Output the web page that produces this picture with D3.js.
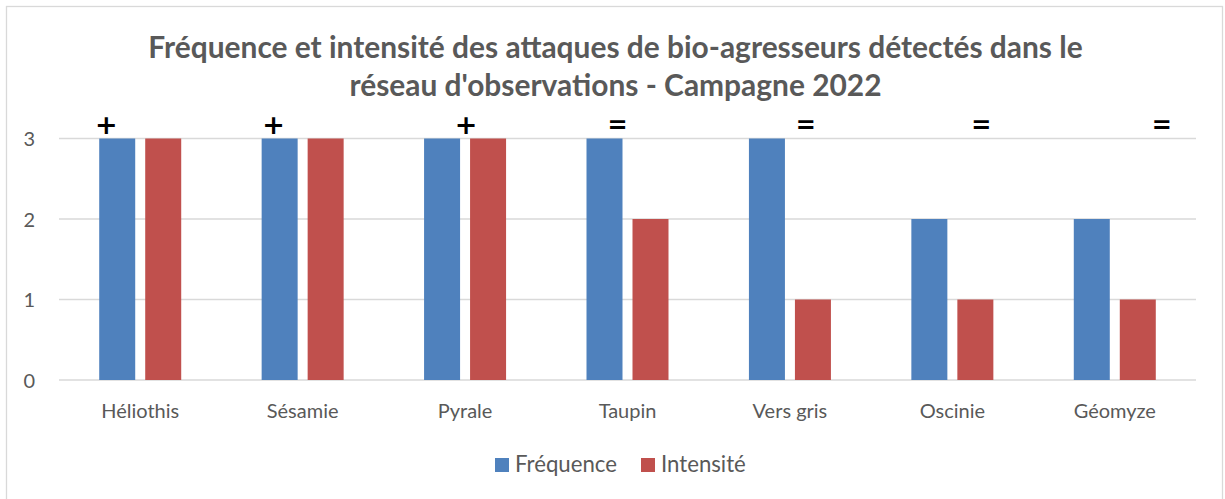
<!DOCTYPE html>
<html>
<head>
<meta charset="utf-8">
<script src="https://cdn.jsdelivr.net/npm/d3@7"></script>
<style>
  body { margin: 0; background: #fff; }
  svg { display: block; }
</style>
</head>
<body>
<div id="chart"></div>
<script>
var width = 1225, height = 499;

// data
var categories = ["Héliothis", "Sésamie", "Pyrale", "Taupin", "Vers gris", "Oscinie", "Géomyze"];
var frequence = [3, 3, 3, 3, 3, 2, 2];
var intensite = [3, 3, 3, 2, 1, 1, 1];
var seriesNames = ["Fréquence", "Intensité"];
var trendMarks = ["+", "+", "+", "=", "=", "=", "="];
var yTicks = [0, 1, 2, 3];
var titleLines = ["Fréquence et intensité des attaques de bio-agresseurs détectés dans le",
                  "réseau d'observations - Campagne 2022"];

// hand placed annotations in the original, shift from category centre (px)
var markShift = [-34, -29, 1, -10, 16, 29, 47];

var colors = ["#4F81BD", "#C0504D"];
var font = "Lato, 'Open Sans', sans-serif";

var svg = d3.select("#chart")
            .append("svg")
            .attr("width", width)
            .attr("height", height);

// scale a text selection so that one of its nodes gets a given width
function fitText(sel, node, target, base) {
  var w = node.getComputedTextLength();
  var fs = base * target / w;
  sel.style("font-size", fs + "px");
  return fs;
}

// chart frame (bottom edge is off the picture)
svg.append("rect")
   .attr("x", 6.5).attr("y", 6.5)
   .attr("width", 1216).attr("height", 520)
   .attr("fill", "white")
   .attr("stroke", "#D9D9D9")
   .attr("stroke-width", 1.3);

var plot = { left: 59, right: 1196, top: 138.5, bottom: 380 };

var x = d3.scaleBand()
          .domain(categories)
          .range([plot.left, plot.right]);

var x1 = d3.scaleBand()
           .domain(seriesNames)
           .range([0, 82])
           .paddingInner(10 / 46);

var y = d3.scaleLinear()
          .domain([0, 3])
          .range([plot.bottom, plot.top]);

// gridlines
svg.append("g")
   .selectAll("line")
   .data(yTicks)
   .enter()
   .append("line")
   .attr("x1", plot.left)
   .attr("x2", plot.right)
   .attr("y1", function(d) { return y(d); })
   .attr("y2", function(d) { return y(d); })
   .attr("stroke", "#D9D9D9")
   .attr("stroke-width", 1.3);

// x axis labels
var xAxis = svg.append("g")
   .attr("transform", "translate(0," + plot.bottom + ")")
   .call(d3.axisBottom(x).tickSize(0));
xAxis.select(".domain").remove();
var xText = xAxis.selectAll("text")
     .attr("font-family", font)
     .style("font-size", "16px")
     .attr("fill", "#595959")
     .attr("y", 38)
     .attr("dy", 0);
var labelSize = fitText(xText, xText.node(), 78, 16);

// y axis labels
var yAxis = svg.append("g")
   .attr("transform", "translate(" + (plot.left - 24) + ",0)")
   .call(d3.axisLeft(y).tickValues(yTicks).tickSize(0).tickPadding(0).tickFormat(d3.format("d")));
yAxis.select(".domain").remove();
yAxis.selectAll("text")
     .attr("font-family", font)
     .style("font-size", labelSize + "px")
     .attr("fill", "#595959")
     .attr("dy", "0.36em");

// bars
var rows = categories.map(function(c, i) {
  return { cat: c, vals: [frequence[i], intensite[i]] };
});

var groups = svg.selectAll(".grp")
   .data(rows)
   .enter()
   .append("g")
   .attr("class", "grp")
   .attr("transform", function(d) { return "translate(" + (x(d.cat) + x.bandwidth() / 2 - 41) + ",0)"; });

groups.selectAll("rect")
   .data(function(d) { return d.vals.map(function(v, j) { return { s: seriesNames[j], v: v, j: j }; }); })
   .enter()
   .append("rect")
   .attr("x", function(d) { return x1(d.s); })
   .attr("y", function(d) { return y(d.v); })
   .attr("width", x1.bandwidth())
   .attr("height", function(d) { return y(0) - y(d.v); })
   .attr("fill", function(d) { return colors[d.j]; });

// trend marks above the bars
svg.append("g")
   .selectAll("text")
   .data(trendMarks)
   .enter()
   .append("text")
   .attr("x", function(d, i) { return x(categories[i]) + x.bandwidth() / 2 + markShift[i]; })
   .attr("y", function(d) { return d == "+" ? 134 : 133; })
   .attr("text-anchor", "middle")
   .attr("font-family", "'DejaVu Sans', sans-serif")
   .attr("font-weight", "bold")
   .style("font-size", function(d) { return d == "+" ? "27px" : "24px"; })
   .attr("fill", "black")
   .text(function(d) { return d; });

// title
var title = svg.append("g");
var tText = title.selectAll("text")
   .data(titleLines)
   .enter()
   .append("text")
   .attr("x", 615.5)
   .attr("y", function(d, i) { return 58 + i * 38; })
   .attr("text-anchor", "middle")
   .attr("font-family", font)
   .attr("font-weight", "bold")
   .style("font-size", "24px")
   .attr("fill", "#595959")
   .text(function(d) { return d; });
fitText(tText, tText.node(), 935, 24);

// legend
var legend = svg.append("g")
   .attr("transform", "translate(495,0)");
var lx = [0, 146];
var li = legend.selectAll("g")
   .data(seriesNames)
   .enter()
   .append("g")
   .attr("transform", function(d, i) { return "translate(" + lx[i] + ",0)"; });
li.append("rect")
  .attr("x", 0).attr("y", 458)
  .attr("width", 14).attr("height", 14)
  .attr("fill", function(d, i) { return colors[i]; });
var lText = li.append("text")
  .attr("x", 20).attr("y", 472)
  .attr("font-family", font)
  .style("font-size", "16px")
  .attr("fill", "#595959")
  .text(function(d) { return d; });
fitText(lText, lText.node(), 102, 16);
</script>
</body>
</html>
